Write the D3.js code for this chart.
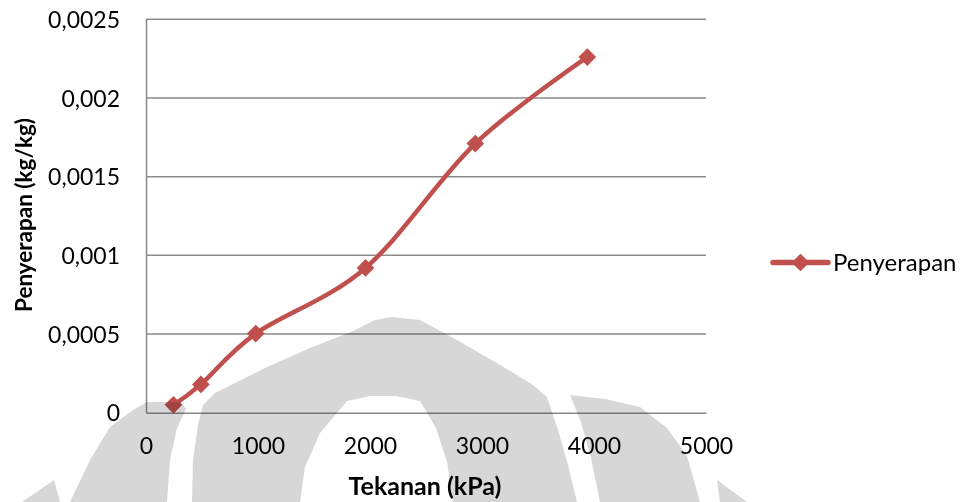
<!DOCTYPE html>
<html>
<head>
<meta charset="utf-8">
<script src="https://cdn.jsdelivr.net/npm/d3@7"></script>
<style>
  html, body { margin: 0; padding: 0; background: #fff; }
  svg { display: block; }
  text { font-family: Lato, "Open Sans", sans-serif; fill: #000; }
</style>
</head>
<body>
<svg id="chart" width="966" height="502"></svg>
<script>
// Pressure (kPa) and absorption (kg/kg) series
const pressure   = [245, 490, 980, 1960, 2940, 3940];
const absorption = [0.00005, 0.00018, 0.000503, 0.00092, 0.00171, 0.00226];
const seriesName = "Penyerapan";

const xTicks = [0, 1000, 2000, 3000, 4000, 5000];
const yTicks = [0, 0.0005, 0.001, 0.0015, 0.002, 0.0025];

const xTitle = "Tekanan (kPa)";
const yTitle = "Penyerapan (kg/kg)";

const plot = { left: 146, right: 706, top: 19.3, bottom: 412.7 };
const red = "#C0504D";
const gridColor = "#898989";

const svg = d3.select("#chart");

const x = d3.scaleLinear().domain([0, 5000]).range([plot.left, plot.right]);
const y = d3.scaleLinear().domain([0, 0.0025]).range([plot.bottom, plot.top]);

// Decimal comma for tick labels
const fmtY = v => (v === 0 ? "0" : String(+v.toFixed(4))).replace(".", ",");

// Horizontal gridlines
svg.append("g")
  .selectAll("line")
  .data(yTicks.slice(1))
  .join("line")
  .attr("x1", plot.left).attr("x2", plot.right)
  .attr("y1", d => y(d)).attr("y2", d => y(d))
  .attr("stroke", gridColor).attr("stroke-width", 1.5);

// Axes (no tick marks, grey domain lines)
const yAxis = svg.append("g")
  .attr("transform", `translate(${plot.left},0)`)
  .call(d3.axisLeft(y).tickValues(yTicks).tickFormat(fmtY).tickSize(0).tickPadding(26));
const xAxis = svg.append("g")
  .attr("transform", `translate(0,${plot.bottom})`)
  .call(d3.axisBottom(x).tickValues(xTicks).tickFormat(d3.format("d")).tickSize(0).tickPadding(25));

[xAxis, yAxis].forEach(g => {
  g.select(".domain").attr("stroke", gridColor).attr("stroke-width", 1.5);
  g.selectAll("text").style("font-family", "Lato, sans-serif").style("font-size", "23px").attr("fill", "#000");
});
yAxis.selectAll("text").attr("dy", "0.36em");
xAxis.selectAll("text").attr("dy", "0.71em");

// Axis titles
svg.append("text")
  .attr("x", (plot.left + plot.right) / 2 - 1).attr("y", 495)
  .attr("text-anchor", "middle")
  .style("font-size", "25px").style("font-weight", "bold")
  .text(xTitle);

svg.append("text")
  .attr("transform", `translate(32,${(plot.top + plot.bottom) / 2 - 1}) rotate(-90)`)
  .attr("text-anchor", "middle")
  .style("font-size", "22.5px").style("font-weight", "bold")
  .text(yTitle);

// Smoothed series line
const pts = pressure.map((p, i) => [p, absorption[i]]);
const line = d3.line()
  .x(d => x(d[0])).y(d => y(d[1]))
  .curve(d3.curveCardinal.tension(0));

svg.append("path")
  .datum(pts)
  .attr("d", line)
  .attr("fill", "none")
  .attr("stroke", red)
  .attr("stroke-width", 4.5)
  .attr("stroke-linejoin", "round")
  .attr("stroke-linecap", "round");

const diamond = d3.symbol().type(d3.symbolDiamond2).size(200);
svg.append("g")
  .selectAll("path")
  .data(pts)
  .join("path")
  .attr("transform", d => `translate(${x(d[0])},${y(d[1])})`)
  .attr("d", diamond)
  .attr("fill", red);

// Legend
const lg = svg.append("g").attr("transform", "translate(773,262.5)");
lg.append("line").attr("x1", 0).attr("x2", 55).attr("y1", 0).attr("y2", 0)
  .attr("stroke", red).attr("stroke-width", 5.5).attr("stroke-linecap", "round");
lg.append("path").attr("transform", "translate(27.5,0)").attr("d", diamond).attr("fill", red);
lg.append("text").attr("x", 60).attr("y", 0).attr("dy", "0.36em")
  .style("font-size", "24px").text(seriesName);

// Faint institutional emblem printed across the lower half of the page
const emblem = svg.append("g").style("mix-blend-mode", "multiply").attr("fill", "#d7d7d7");
const shapes = [
  // central dome with its inner arch cut out
  [[192,502],[193,460],[198,425],[203,405],[215,393],[267,367],[310,348],[353,331],[375,320],[392,317],
   [420,320],[457,340],[500,365],[533,385],[547,397],[558,430],[568,465],[577,502],
   [453,502],[447,462],[436,428],[420,401],[396,396],[370,396],[347,401],[320,433],[305,467],[300,502]],
  // left outer band
  [[167,502],[170,460],[177,428],[186,409],[181,402],[147,402],[133,410],[110,427],[90,460],[70,502]],
  // small left sliver
  [[54,480],[22,502],[60,502]],
  // right wing
  [[570,395],[605,399],[640,407],[667,428],[687,456],[700,502],[600,502],[591,458],[581,422]],
  // far-right sliver
  [[717,480],[720,502],[747,502]]
];
emblem.selectAll("path")
  .data(shapes)
  .join("path")
  .attr("d", d => d3.line()(d) + "Z");
</script>
</body>
</html>
